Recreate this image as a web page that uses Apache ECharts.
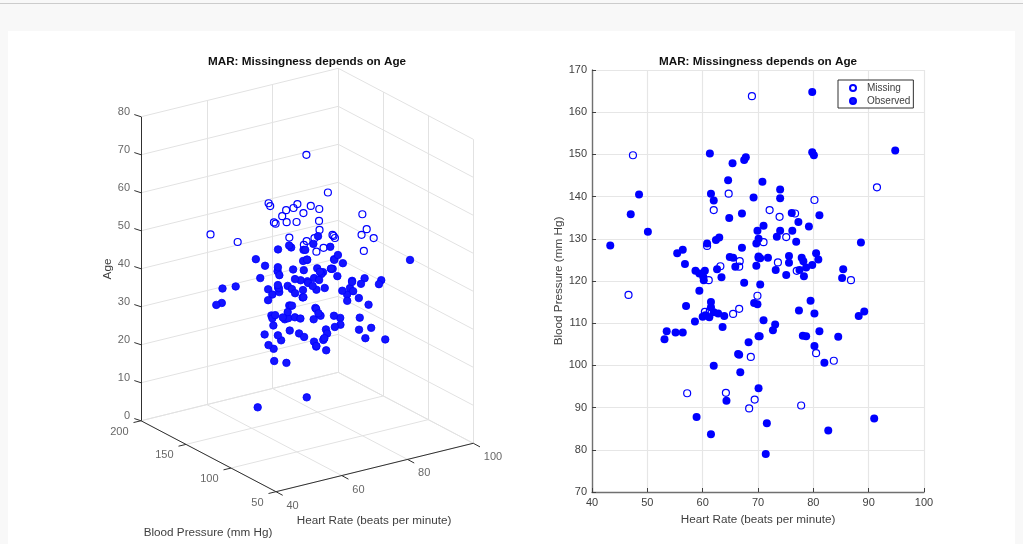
<!DOCTYPE html>
<html>
<head>
<meta charset="utf-8">
<style>
html,body{margin:0;padding:0;width:1023px;height:544px;overflow:hidden;background:#f8f8f8;}
#topline{position:absolute;left:0;top:3px;width:1023px;height:1px;background:#cccccc;}
#panel{position:absolute;left:8px;top:31px;width:1007px;height:513px;background:#ffffff;}
#chart{position:absolute;left:0;top:0;width:1023px;height:544px;}
</style>
<script src="https://cdn.jsdelivr.net/npm/echarts@6/dist/echarts.min.js"></script>
</head>
<body>
<div id="topline"></div>
<div id="panel"></div>
<div id="chart"></div>
<script>
var missHR=[47.4,68.9,64.7,62,91.5,80.2,72.1,73.9,76.7,60.8,66.7,66.6,63.2,61.1,46.6,69.9,66.6,65.5,60.4,61.3,68.7,71,75.1,73.6,77,86.8,80.5,83.7,57.2,64.2,69.4,68.4,77.8];
var missBP=[149.8,163.8,140.7,136.8,142.2,139.2,136.8,135.2,136,128.3,124.7,123.4,123.5,120.2,116.7,116.5,113.4,112.2,112.7,113,102,129.2,130.4,124.4,122.4,120.2,102.9,101.1,93.4,93.5,91.9,89.8,90.5];
var missAge=[53.7,55.6,54,59.7,50.6,59.1,55.7,57.4,55.9,56.7,56,60.9,60,59.3,56,52.1,75.1,51.8,58.8,54.5,51.6,49.5,53.8,52.5,50.7,50.4,52.4,51.1,65.6,52.6,55.3,56.3,50.3];
var obsHR=[48.5,47,61.3,65.4,67.8,67.5,64.6,61.5,62,69.2,67.1,64.8,69.9,50.1,79.8,79.8,80.1,94.8,70.8,74,74,81.1,76.1,77.3,79.2,71,74,76.2,73.4,76.9,70.1,69.7,60.8,62.4,63,67.1,43.3,56.4,55.4,56.8,64.9,65.5,70.1,65.9,69.7,62.6,58.7,60.4,59.4,60.1,60.2,63.4,67.5,70.4,59.4,57,61.5,61.5,60,60.5,61.2,62,62.8,63.9,58.6,63.6,70.1,53.5,55.1,56.4,53.1,68.3,66.4,66.6,88.6,80.5,80.9,75.6,75.6,77.9,78.2,79.8,78.7,77.5,70.1,70.4,71.8,73.2,75.1,78.3,85.4,85.2,79.5,77.4,80.2,89.2,88.2,69.3,69.9,71,73.1,72.7,81.1,70.3,78.1,78.7,84.5,80.2,82,62,66.8,70.1,64.3,58.9,71.6,61.5,82.7,91,71.4];
var obsBP=[140.5,135.8,150.2,147.9,149.3,148.7,143.9,140.7,139.1,139.8,136,134.9,131.9,131.7,164.8,150.5,149.8,150.9,143.5,141.7,139.6,135.6,136.1,134,132.9,133.1,131.9,131.9,130.5,129.3,130,128.9,128.9,129.7,130.3,127.9,128.4,127.4,126.6,124,125.7,125.5,125.5,123.4,123.6,122.8,122.4,122.4,121.8,121,120.2,120.9,119.6,119.2,117.7,114.1,115,113.8,111.5,111.9,111.4,112.6,112.3,111.7,110.4,109.1,106.9,108.1,107.8,107.8,106.2,105.5,102.7,102.5,129.1,126.6,125.1,125.9,124.3,125.5,124.7,123.8,123.2,122.6,125.8,125.4,125.5,122.6,121.4,121.1,122.8,120.7,115.3,113,112.3,112.8,111.7,114.8,114.5,110.7,109.7,108.3,108.1,106.9,107,106.9,106.8,104.6,100.6,99.9,98.4,94.6,91.6,87.8,86.3,83.7,84.6,87.4,79];
var obsAge=[40.4,37.5,44.2,28.8,45.5,39.9,28.7,43.6,37.5,46.9,37.7,24,39.1,41.7,40.9,32.2,46.3,16.2,40.3,45,42.6,41.8,40.4,39.4,45.8,43.8,38.8,39.4,48.1,25,36.7,35,29.5,44.4,42.1,40.5,38.7,43.1,9.4,28.6,27.7,38.5,45.3,37.6,39.9,31.5,38.9,27.8,33.4,40.5,39.5,51,43.8,30.3,41,22.8,33,36.5,22,35.2,36.8,36.5,33.3,28.9,34.4,33.2,26.7,40.3,27.2,43.7,28.8,42.8,36.2,26,36,27.6,42.1,36.6,20.4,41.2,43.6,26.3,39.4,29.3,9,39.1,38,41.8,25.3,45.3,27.1,36.3,35.4,37.1,39.2,37.4,36.7,25.2,33.7,25.8,44.2,44.5,35,26.9,38.4,39.9,26.6,27.3,34,40.3,34.6,31.4,36.6,32,39,29.6,26.7,45.5,42.5];

var hrTicks=[40,60,80,100];
var bpTicks=[50,100,150,200];
var ageTicks=[0,10,20,30,40,50,60,70,80];

var title='MAR: Missingness depends on Age';
var FONT='"Liberation Sans", Arial, Helvetica, sans-serif';
var BLUE='#0000ff', TXT='#404040';

// orthographic view of the 3-D axes
function project(hr,bp,age){
  return [276+(hr-40)*3.288-(bp-50)*0.9, 491.7-(hr-40)*0.807-(bp-50)*0.473-age*3.8];
}
function zipP(h,b,a){return h.map(function(v,i){return project(v,b[i],a[i]);});}
function zip2(h,b){return h.map(function(v,i){return [v,b[i]];});}
function seg(a,b){return {coords:[project(a[0],a[1],a[2]),project(b[0],b[1],b[2])]};}

var gridSegs=[];
hrTicks.forEach(function(h){
  gridSegs.push(seg([h,50,0],[h,200,0]));
  gridSegs.push(seg([h,200,0],[h,200,80]));
});
bpTicks.forEach(function(b){
  gridSegs.push(seg([40,b,0],[100,b,0]));
  gridSegs.push(seg([100,b,0],[100,b,80]));
});
ageTicks.forEach(function(a){
  gridSegs.push(seg([40,200,a],[100,200,a]));
  gridSegs.push(seg([100,200,a],[100,50,a]));
});
var axisSegs=[seg([40,200,0],[40,200,80]),seg([40,200,0],[40,50,0]),seg([40,50,0],[100,50,0])];
ageTicks.forEach(function(a){
  var p=project(40,200,a);
  axisSegs.push({coords:[p,[p[0]-6.7,p[1]-2.2]]});
});
bpTicks.forEach(function(b){
  var p=project(40,b,0);
  axisSegs.push({coords:[p,[p[0]-7.5,p[1]+1.8]]});
});
hrTicks.forEach(function(h){
  var p=project(h,50,0);
  axisSegs.push({coords:[p,[p[0]+6.7,p[1]+3.6]]});
});

function labelSeries(items,align){
  return {type:'scatter',xAxisIndex:0,yAxisIndex:0,symbolSize:0,silent:true,animation:false,clip:false,
    data:items,
    label:{show:true,position:'inside',align:align,verticalAlign:'middle',color:TXT,fontSize:11,fontFamily:FONT,
      formatter:function(d){return d.data.name;}}
  };
}
var zLabels=ageTicks.map(function(a){var p=project(40,200,a);return {name:String(a),value:[p[0]-11,p[1]-4.5]};});
var bLabels=bpTicks.map(function(b){var p=project(40,b,0);return {name:String(b),value:[p[0]-12.5,p[1]+11]};});
var hLabels=hrTicks.map(function(h){var p=project(h,50,0);return {name:String(h),value:[p[0]+10.5,p[1]+14]};});

var openStyle={color:'rgba(255,255,255,0)',borderColor:BLUE,borderWidth:1.2,opacity:1};
var fillStyle={color:BLUE,borderColor:BLUE,borderWidth:0,opacity:1};

var option={
  animation:false,
  backgroundColor:'transparent',
  textStyle:{fontFamily:FONT},
  title:[
    {text:title,left:302,top:51,textAlign:'center',textStyle:{fontSize:11.7,fontWeight:'bold',color:'#111',fontFamily:FONT}},
    {text:title,left:753,top:51,textAlign:'center',textStyle:{fontSize:11.7,fontWeight:'bold',color:'#111',fontFamily:FONT}}
  ],
  grid:[
    {left:0,top:0,width:1023,height:544,show:false},
    {left:592,top:70,width:332,height:422,show:false}
  ],
  xAxis:[
    {gridIndex:0,type:'value',min:0,max:1023,show:false},
    {gridIndex:1,type:'value',min:40,max:100,interval:10,
      name:'Heart Rate (beats per minute)',nameLocation:'middle',nameGap:22,
      nameTextStyle:{color:TXT,fontSize:11.7,fontFamily:FONT},
      axisLine:{show:true,onZero:false,lineStyle:{color:'#707070',width:1.4}},
      axisTick:{show:true,inside:true,length:4,lineStyle:{color:'#404040',width:1}},
      axisLabel:{color:TXT,fontSize:11,margin:5,fontFamily:FONT,showMaxLabel:true,showMinLabel:true},
      splitLine:{show:true,lineStyle:{color:'#e6e6e6',width:1.2}}}
  ],
  yAxis:[
    {gridIndex:0,type:'value',min:0,max:544,inverse:true,show:false},
    {gridIndex:1,type:'value',min:70,max:170,interval:10,
      name:'Blood Pressure (mm Hg)',nameLocation:'middle',nameGap:24,nameRotate:90,
      nameTextStyle:{color:TXT,fontSize:11.7,fontFamily:FONT},
      axisLine:{show:true,onZero:false,lineStyle:{color:'#707070',width:1.4}},
      axisTick:{show:true,inside:true,length:4,lineStyle:{color:'#404040',width:1}},
      axisLabel:{color:TXT,fontSize:11,margin:5,fontFamily:FONT},
      splitLine:{show:true,lineStyle:{color:'#e6e6e6',width:1.2}}}
  ],
  legend:{
    show:true,orient:'vertical',left:838,top:80,
    padding:[3,3,2,11],itemGap:3,itemWidth:18,itemHeight:6,itemSymbolKeepAspect:true,
    borderColor:'#303030',borderWidth:1,backgroundColor:'#ffffff',selectedMode:false,
    textStyle:{color:TXT,fontSize:10,fontFamily:FONT,lineHeight:10},
    data:[{name:'Missing',icon:'circle'},{name:'Observed',icon:'circle'}]
  },
  series:[
    {type:'lines',coordinateSystem:'cartesian2d',xAxisIndex:0,yAxisIndex:0,silent:true,polyline:false,data:gridSegs,
      lineStyle:{color:'#e2e2e2',width:1,opacity:1},animation:false},
    {type:'lines',coordinateSystem:'cartesian2d',xAxisIndex:0,yAxisIndex:0,silent:true,polyline:false,data:axisSegs,
      lineStyle:{color:'#303030',width:1,opacity:1},animation:false},
    labelSeries(zLabels,'right'),labelSeries(bLabels,'right'),labelSeries(hLabels,'left'),
    {name:'Missing',type:'scatter',xAxisIndex:0,yAxisIndex:0,symbol:'circle',symbolSize:7,data:zipP(missHR,missBP,missAge),itemStyle:openStyle,clip:false,silent:true},
    {name:'Observed',type:'scatter',xAxisIndex:0,yAxisIndex:0,symbol:'circle',symbolSize:7.5,data:zipP(obsHR,obsBP,obsAge),itemStyle:{color:'#1414ff',borderColor:BLUE,borderWidth:0.8,opacity:1},clip:false,silent:true},
    {name:'Missing',type:'scatter',xAxisIndex:1,yAxisIndex:1,symbol:'circle',symbolSize:7,data:zip2(missHR,missBP),itemStyle:openStyle,silent:true},
    {name:'Observed',type:'scatter',xAxisIndex:1,yAxisIndex:1,symbol:'circle',symbolSize:8,data:zip2(obsHR,obsBP),itemStyle:fillStyle,silent:true}
  ],
  graphic:[
    {type:'text',silent:true,x:208,y:533,style:{text:'Blood Pressure (mm Hg)',fill:TXT,font:'11.7px '+FONT,textAlign:'center',textVerticalAlign:'middle'}},
    {type:'text',silent:true,x:374,y:521,style:{text:'Heart Rate (beats per minute)',fill:TXT,font:'11.7px '+FONT,textAlign:'center',textVerticalAlign:'middle'}},
    {type:'text',silent:true,x:108,y:269,rotation:Math.PI/2,style:{text:'Age',fill:TXT,font:'11.7px '+FONT,textAlign:'center',textVerticalAlign:'middle'}}
  ]
};
var chart=echarts.init(document.getElementById('chart'),null,{renderer:'canvas',width:1023,height:544});
chart.setOption(option);
</script>
</body>
</html>
